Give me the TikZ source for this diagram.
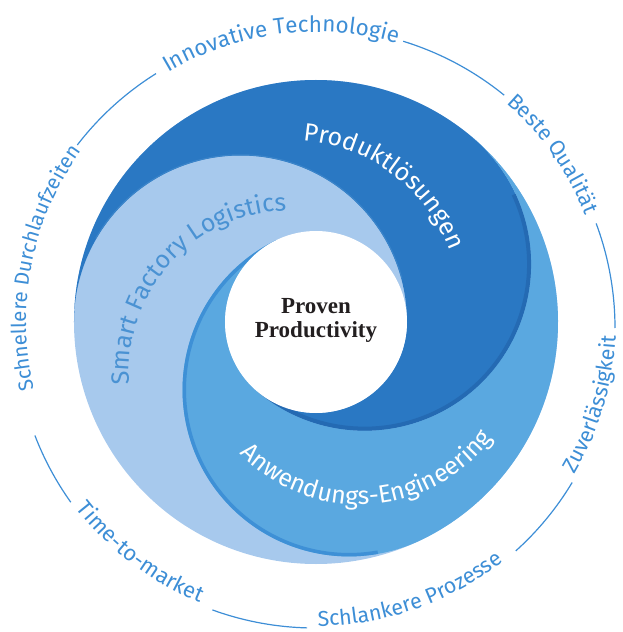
\documentclass[tikz,border=0pt]{standalone}
\usepackage{fontspec}
\newfontfamily\dinfont{Fira Sans}
\newfontfamily\centerfont{Liberation Serif}
\usetikzlibrary{decorations.text}
\definecolor{darkb}{HTML}{2A78C3}
\definecolor{darkedge}{HTML}{246AB3}
\definecolor{darkline}{HTML}{3B85CA}
\definecolor{medb}{HTML}{5AA8E0}
\definecolor{mededge}{HTML}{3E90D6}
\definecolor{lightb}{HTML}{A7C9ED}
\definecolor{ringblue}{HTML}{3D8ED6}
\definecolor{labelblue}{HTML}{4A92D3}
\definecolor{centertext}{HTML}{231F20}
\newcommand\ringfont[1]{\dinfont\fontsize{#1pt}{24pt}\selectfont}
\newcommand\bandfont{\dinfont\fontsize{25pt}{28pt}\selectfont}
\begin{document}
\begin{tikzpicture}[
  ringline/.style={draw=ringblue, line width=1.2pt},
  centerlbl/.style={font=\centerfont\bfseries\fontsize{23pt}{24pt}\selectfont, text=centertext, anchor=base, inner sep=0pt}
]
\useasboundingbox (-316pt,-310pt) rectangle (306pt,322pt);
% base disk (light arm)
\fill[lightb] (0pt,0pt) circle[radius=242pt];
% dark arm
\fill[darkb] (180:242pt) arc[start angle=180, end angle=50, radius=242pt]
  arc[start angle=50, end angle=-130, radius=166.5pt]
  arc[start angle=-130, end angle=0, radius=91pt]
  arc[start angle=0, end angle=180, radius=166.5pt] -- cycle;
% medium arm
\fill[medb] (50:242pt) arc[start angle=50, end angle=-64, radius=242pt]
  arc[start angle=-64, end angle=-244, radius=166.5pt]
  arc[start angle=116, end angle=230, radius=91pt]
  arc[start angle=-130, end angle=50, radius=166.5pt] -- cycle;
% edge shading
\draw[darkline, line width=1pt] ([shift={(180:75.5pt)}]150:167.2pt) arc[start angle=150, end angle=15, radius=167.2pt];
\draw[darkedge, line width=4pt] ([shift={(50:75.5pt)}]25:164.5pt) arc[start angle=25, end angle=-130, radius=164.5pt];
\draw[mededge, line width=3.5pt] ([shift={(-64:75.5pt)}]-80:164.8pt) arc[start angle=-80, end angle=-244, radius=164.8pt];
% centre
\fill[white] (0pt,0pt) circle[radius=91pt];
\node[centerlbl] (proven) at (0pt,8.7pt) {Proven};
\node[centerlbl] (productivity) at (0pt,-15.3pt) {Productivity};
% band labels
\path[decorate, decoration={text along path, text align=center, text color=white,
  text={|\bandfont|Produktlösungen}}]
  ([shift={(-26.4pt,11.1pt)}]113:171pt) arc[start angle=113, end angle=-7, radius=171pt];
\path[decorate, decoration={text along path, text align=center, text color=labelblue,
  text={|\bandfont|Smart Factory Logistics}}]
  ([shift={(-26.2pt,-49.3pt)}]198:160.5pt) arc[start angle=198, end angle=78, radius=160.5pt];
\path[decorate, decoration={text along path, text align=center, text color=white,
  text={|\bandfont|Anwendungs-Engineering}}]
  ([shift={(43.6pt,-15.6pt)}]203.5:167pt) arc[start angle=203.5, end angle=343.5, radius=167pt];
% ring texts
\path[decorate, decoration={text along path, text align=center, text color=ringblue,
  text={|\ringfont{22.5}|Innovative Technologie}}]
  (137.2:290pt) arc[start angle=137.2, end angle=57.2, radius=290pt];
\path[decorate, decoration={text along path, text align=center, text color=ringblue,
  text={|\ringfont{21.5}|Beste Qualität}}]
  (75.3:290pt) arc[start angle=75.3, end angle=-4.7, radius=290pt];
\path[decorate, decoration={text along path, text align=center, text color=ringblue,
  text={|\ringfont{20.5}|Schnellere Durchlaufzeiten}}]
  (208.7:290pt) arc[start angle=208.7, end angle=128.7, radius=290pt];
\path[decorate, decoration={text along path, text align=center, text color=ringblue,
  text={|\ringfont{21.5}|Zuverlässigkeit}}]
  (-56.6:300pt) arc[start angle=-56.6, end angle=23.4, radius=300pt];
\path[decorate, decoration={text along path, text align=center, text color=ringblue,
  text={|\ringfont{21.5}|Schlankere Prozesse}}]
  (-110.8:304pt) arc[start angle=-110.8, end angle=-30.8, radius=304pt];
\path[decorate, decoration={text along path, text align=center, text color=ringblue,
  text={|\ringfont{22}|Time-to-market}}]
  (192.7:304pt) arc[start angle=192.7, end angle=272.7, radius=304pt];
% ring line segments
\draw[ringline] ([shift={(-1pt,-6pt)}]72.9:300pt) arc[start angle=72.9, end angle=50.9, radius=300pt];
\draw[ringline] ([shift={(-1pt,-6pt)}]20.4:300pt) arc[start angle=20.4, end angle=0, radius=300pt];
\draw[ringline] ([shift={(-1pt,-6pt)}]-31:300pt) arc[start angle=-31, end angle=-48, radius=300pt];
\draw[ringline] ([shift={(-1pt,-6pt)}]250:300pt) arc[start angle=250, end angle=268.5, radius=300pt];
\draw[ringline] ([shift={(-1pt,-6pt)}]201:300pt) arc[start angle=201, end angle=215.5, radius=300pt];
\draw[ringline] ([shift={(-1pt,-6pt)}]122:300pt) arc[start angle=122, end angle=142.4, radius=300pt];
\end{tikzpicture}
\end{document}
